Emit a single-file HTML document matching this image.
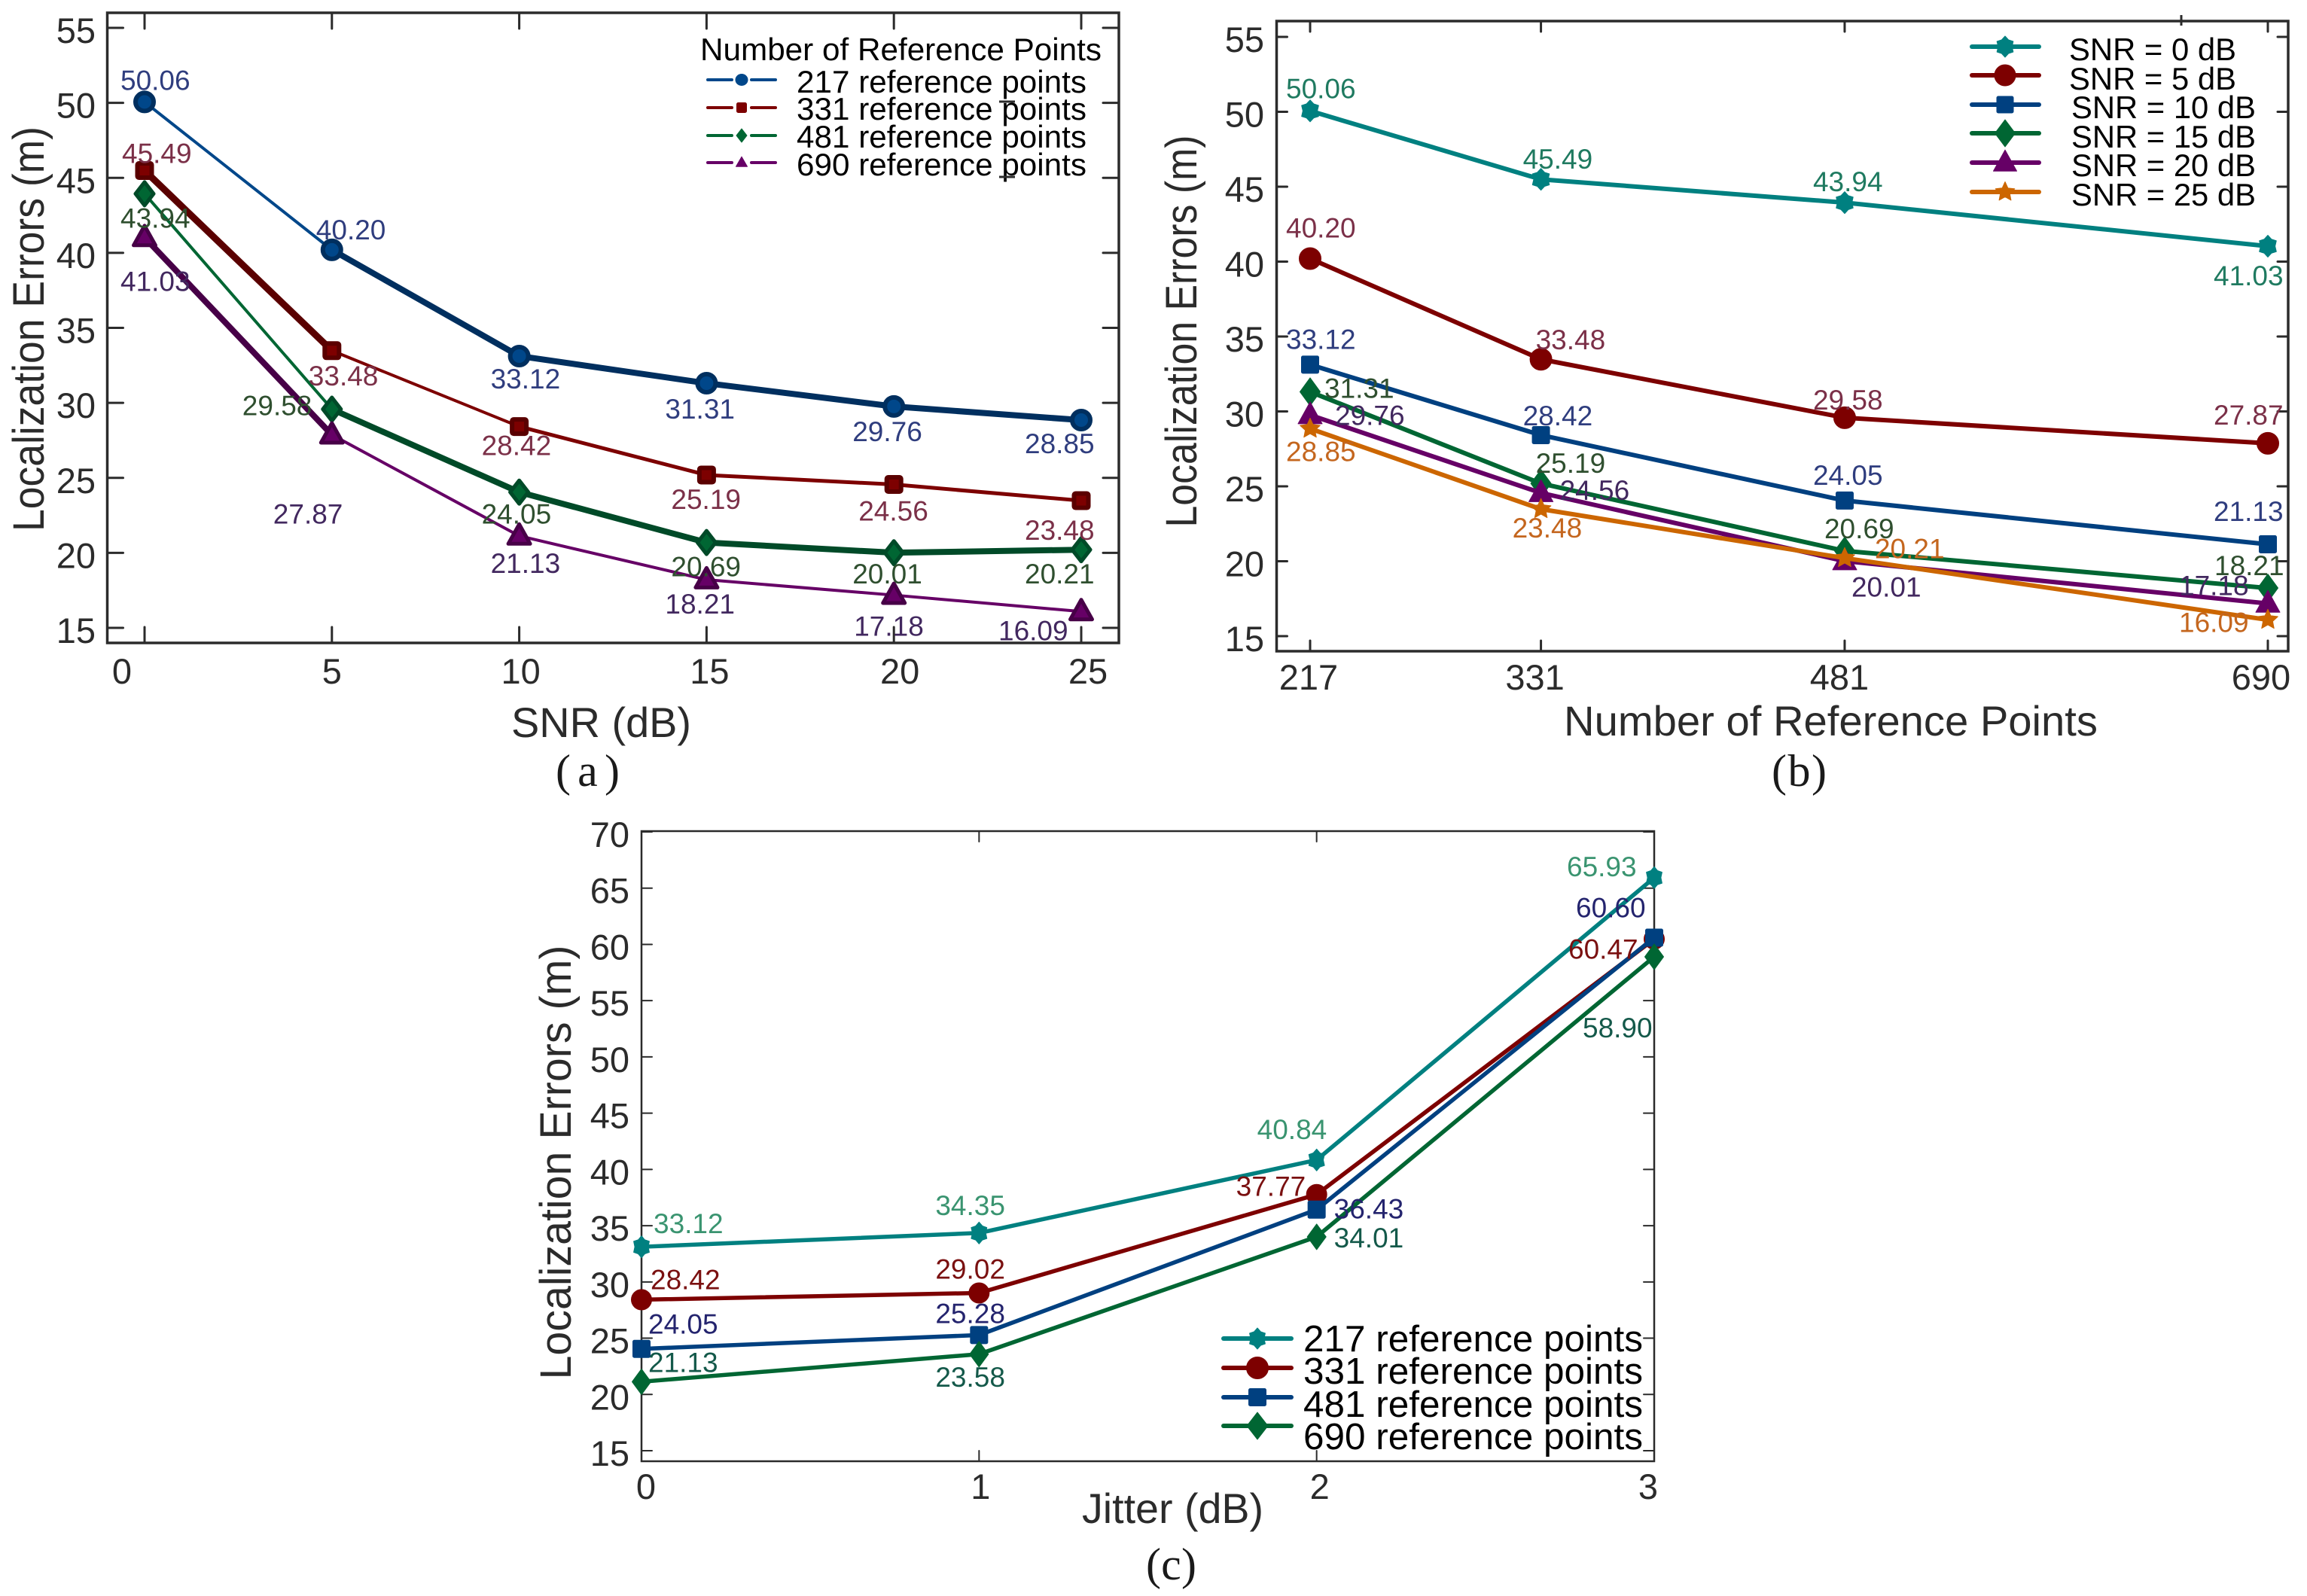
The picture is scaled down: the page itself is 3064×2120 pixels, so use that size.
<!DOCTYPE html>
<html lang="en">
<head>
<meta charset="utf-8">
<title>Localization errors versus SNR, reference points and jitter</title>
<style>
html,body{margin:0;padding:0;background:#fff;width:3064px;height:2120px;overflow:hidden}
svg{display:block}
text{font-family:"Liberation Sans",sans-serif;fill:#2b2b2b}
.legend{fill:#000;font-size:42px}
.axt{font-size:56px}
.cap{font-family:"Liberation Serif",serif;font-size:60px;fill:#1a1a1a}
</style>
</head>
<body>
<svg id="figure" xmlns="http://www.w3.org/2000/svg" width="3064" height="2120" viewBox="0 0 3064 2120">
  <rect x="0" y="0" width="3064" height="2120" fill="#fff"/>
  <g id="panel-a"></g>
  <g id="panel-b"></g>
  <g id="panel-c"></g>

  <text class="axt" style="font-size:58px" transform="translate(58,437) rotate(-90)" text-anchor="middle" textLength="538" lengthAdjust="spacingAndGlyphs">Localization Errors (m)</text>
  <text class="axt" x="679" y="979" textLength="239" lengthAdjust="spacingAndGlyphs">SNR (dB)</text>
  <text class="cap" x="738" y="1044" textLength="85" lengthAdjust="spacing">(a)</text>

  <text class="axt" style="font-size:58px" transform="translate(1589,440) rotate(-90)" text-anchor="middle" textLength="521" lengthAdjust="spacingAndGlyphs">Localization Errors (m)</text>
  <text class="axt" x="2077" y="977" textLength="709" lengthAdjust="spacingAndGlyphs">Number of Reference Points</text>
  <text class="cap" x="2353" y="1044" textLength="73" lengthAdjust="spacing">(b)</text>

  <text class="axt" style="font-size:58px" transform="translate(758,1544) rotate(-90)" text-anchor="middle" textLength="577" lengthAdjust="spacingAndGlyphs">Localization Errors (m)</text>
  <text class="axt" x="1437" y="2023" textLength="241" lengthAdjust="spacingAndGlyphs">Jitter (dB)</text>
  <text class="cap" x="1522" y="2098" textLength="67" lengthAdjust="spacing">(c)</text>

  <text class="legend" x="930" y="80" textLength="533" lengthAdjust="spacingAndGlyphs">Number of Reference Points</text>
  <text class="legend" x="1058" y="123" textLength="385" lengthAdjust="spacingAndGlyphs">217 reference points</text>
  <text class="legend" x="1058" y="159" textLength="385" lengthAdjust="spacingAndGlyphs">331 reference points</text>
  <text class="legend" x="1058" y="196" textLength="385" lengthAdjust="spacingAndGlyphs">481 reference points</text>
  <text class="legend" x="1058" y="233" textLength="385" lengthAdjust="spacingAndGlyphs">690 reference points</text>

  <text class="legend" x="2748" y="80" textLength="222" lengthAdjust="spacingAndGlyphs">SNR = 0 dB</text>
  <text class="legend" x="2748" y="119" textLength="222" lengthAdjust="spacingAndGlyphs">SNR = 5 dB</text>
  <text class="legend" x="2751" y="157" textLength="245" lengthAdjust="spacingAndGlyphs">SNR = 10 dB</text>
  <text class="legend" x="2751" y="196" textLength="245" lengthAdjust="spacingAndGlyphs">SNR = 15 dB</text>
  <text class="legend" x="2751" y="234" textLength="245" lengthAdjust="spacingAndGlyphs">SNR = 20 dB</text>
  <text class="legend" x="2751" y="273" textLength="245" lengthAdjust="spacingAndGlyphs">SNR = 25 dB</text>

  <text class="legend" style="font-size:49.5px" x="1731" y="1795" textLength="451" lengthAdjust="spacingAndGlyphs">217 reference points</text>
  <text class="legend" style="font-size:49.5px" x="1731" y="1838" textLength="451" lengthAdjust="spacingAndGlyphs">331 reference points</text>
  <text class="legend" style="font-size:49.5px" x="1731" y="1882" textLength="451" lengthAdjust="spacingAndGlyphs">481 reference points</text>
  <text class="legend" style="font-size:49.5px" x="1731" y="1925" textLength="451" lengthAdjust="spacingAndGlyphs">690 reference points</text>

  <line x1="1327" y1="135" x2="1348" y2="135" stroke="#2b2b2b" stroke-width="3"/>
  <line x1="1327" y1="235" x2="1348" y2="235" stroke="#2b2b2b" stroke-width="3"/>
  <line x1="2897" y1="20" x2="2897" y2="34" stroke="#2b2b2b" stroke-width="3"/>

  <g id="legend-keys"></g>
</svg>

<script>
/* ---------- Panel (a) data ---------- */
const snrCategories = [0, 5, 10, 15, 20, 25];
const panelAYTicks = [15, 20, 25, 30, 35, 40, 45, 50, 55];
const errorsA217 = [50.06, 40.20, 33.12, 31.31, 29.76, 28.85];
const errorsA331 = [45.49, 33.48, 28.42, 25.19, 24.56, 23.48];
const errorsA481 = [43.94, 29.58, 24.05, 20.69, 20.01, 20.21];
const errorsA690 = [41.03, 27.87, 21.13, 18.21, 17.18, 16.09];

/* ---------- Panel (b) data ---------- */
const referencePointCategories = [217, 331, 481, 690];
const panelBYTicks = [15, 20, 25, 30, 35, 40, 45, 50, 55];
const errorsBSnr0 = [50.06, 45.49, 43.94, 41.03];
const errorsBSnr5 = [40.20, 33.48, 29.58, 27.87];
const errorsBSnr10 = [33.12, 28.42, 24.05, 21.13];
const errorsBSnr15 = [31.31, 25.19, 20.69, 18.21];
const errorsBSnr20 = [29.76, 24.56, 20.01, 17.18];
const errorsBSnr25 = [28.85, 23.48, 20.21, 16.09];

/* ---------- Panel (c) data ---------- */
const jitterCategories = [0, 1, 2, 3];
const panelCYTicks = [15, 20, 25, 30, 35, 40, 45, 50, 55, 60, 65, 70];
const errorsC217 = [33.12, 34.35, 40.84, 65.93];
const errorsC331 = [28.42, 29.02, 37.77, 60.47];
const errorsC481 = [24.05, 25.28, 36.43, 60.60];
const errorsC690 = [21.13, 23.58, 34.01, 58.90];

/* ---------- Drawing helpers ---------- */
const NS = 'http://www.w3.org/2000/svg';
function make(tag, parent) {
  const el = document.createElementNS(NS, tag);
  parent.appendChild(el);
  return el;
}
function polyPoints(pts) {
  return pts.map(function (p) { return p[0].toFixed(1) + ',' + p[1].toFixed(1); }).join(' ');
}
function starPoints(cx, cy, w, h, n, inner) {
  const pts = [];
  for (let i = 0; i < n * 2; i++) {
    const a = -Math.PI / 2 + i * Math.PI / n;
    const r = i % 2 ? inner : 1;
    pts.push([cx + Math.cos(a) * r * w / 2, cy + Math.sin(a) * r * h / 2]);
  }
  return polyPoints(pts);
}
function drawMarker(parent, shape, cx, cy, w, h, fill, stroke, sw) {
  let el;
  if (shape === 'circle') {
    el = make('ellipse', parent);
    el.setAttribute('cx', cx);
    el.setAttribute('cy', cy);
    el.setAttribute('rx', w / 2);
    el.setAttribute('ry', h / 2);
  } else if (shape === 'square') {
    el = make('rect', parent);
    el.setAttribute('x', cx - w / 2);
    el.setAttribute('y', cy - h / 2);
    el.setAttribute('width', w);
    el.setAttribute('height', h);
    el.setAttribute('rx', 2);
  } else {
    el = make('polygon', parent);
    if (shape === 'diamond') {
      el.setAttribute('points', polyPoints([[cx, cy - h / 2], [cx + w / 2, cy], [cx, cy + h / 2], [cx - w / 2, cy]]));
    } else if (shape === 'triangle') {
      el.setAttribute('points', polyPoints([[cx, cy - h * 0.6], [cx + w / 2, cy + h * 0.4], [cx - w / 2, cy + h * 0.4]]));
    } else if (shape === 'star5') {
      el.setAttribute('points', starPoints(cx, cy, w, h, 5, 0.48));
    } else {
      el.setAttribute('points', starPoints(cx, cy, w, h, 6, 0.74));
    }
  }
  el.setAttribute('fill', fill);
  el.setAttribute('stroke', stroke || fill);
  el.setAttribute('stroke-width', sw || 1);
  el.setAttribute('stroke-linejoin', 'round');
  
  
  return el;
}
function drawSegment(parent, x1, y1, x2, y2, color, width, name) {
  const l = make('line', parent);
  l.setAttribute('x1', x1);
  l.setAttribute('y1', y1);
  l.setAttribute('x2', x2);
  l.setAttribute('y2', y2);
  l.setAttribute('stroke', color);
  l.setAttribute('stroke-width', width);
  l.setAttribute('stroke-linecap', 'round');
  
  
  return l;
}
function drawText(parent, str, x, y, size, color, anchor, name) {
  const t = make('text', parent);
  t.textContent = str;
  t.setAttribute('x', x);
  t.setAttribute('y', y);
  t.setAttribute('font-size', size);
  t.setAttribute('style', 'fill:' + color);
  t.setAttribute('text-anchor', anchor);
  
  
  return t;
}
function linearScale(d0, r0, d1, r1) {
  return function (v) { return r0 + (v - d0) * (r1 - r0) / (d1 - d0); };
}

function drawPanel(p) {
  const g = document.getElementById(p.id);
  const box = p.box;
  const axisColor = '#2b2b2b';

  p.yTicks.forEach(function (t) {
    const y = p.yScale(t);
    drawSegment(g, box.left, y, box.left + p.tickLen, y, axisColor, p.tickWidth, 'y-tick-left-' + t);
    drawSegment(g, box.right, y, box.right - p.tickLen, y, axisColor, p.tickWidth, 'y-tick-right-' + t);
    drawText(g, String(t), p.yLabelX, y + 20, 47, axisColor, 'end', 'y-tick-label-' + t);
  });
  p.xTicks.forEach(function (t, i) {
    const x = p.xScale(t);
    drawSegment(g, x, box.bottom, x, box.bottom - p.tickLen, axisColor, p.tickWidth, 'x-tick-bottom-' + t);
    drawSegment(g, x, box.top, x, box.top + p.tickLen, axisColor, p.tickWidth, 'x-tick-top-' + t);
    drawText(g, String(t), x + p.xLabelShift[i], p.xLabelY, 47, axisColor, 'middle', 'x-tick-label-' + t);
  });

  const frame = make('rect', g);
  frame.setAttribute('x', box.left);
  frame.setAttribute('y', box.top);
  frame.setAttribute('width', box.right - box.left);
  frame.setAttribute('height', box.bottom - box.top);
  frame.setAttribute('fill', 'none');
  frame.setAttribute('stroke', axisColor);
  frame.setAttribute('stroke-width', p.frameWidth);
  
  

  p.series.forEach(function (s) {
    const sg = make('g', g);
    
    
    for (let i = 0; i < s.values.length - 1; i++) {
      const thick = s.widths ? s.widths[i] : p.lineWidth;
      const col = s.widths && thick > 5 ? s.dark : s.color;
      drawSegment(sg, p.xScale(p.xTicks[i]), p.yScale(s.values[i]), p.xScale(p.xTicks[i + 1]), p.yScale(s.values[i + 1]), col, thick, 'line-segment-' + s.key + '-' + i);
    }
    s.values.forEach(function (v, i) {
      drawMarker(sg, s.shape, p.xScale(p.xTicks[i]), p.yScale(v), s.mw, s.mh, s.color, s.dark, s.msw);
    });
  });
  p.series.forEach(function (s) {
    s.values.forEach(function (v, i) {
      const off = s.offsets[i];
      drawText(g, v.toFixed(2), p.xScale(p.xTicks[i]) + off[0], p.yScale(v) + off[1], 37, s.labelColor, 'start', 'value-label-' + s.key + '-' + i);
    });
  });
}

/* ---------- Panel (a) ---------- */
drawPanel({
  id: 'panel-a',
  box: { left: 142.5, right: 1486, top: 17, bottom: 854 },
  xScale: linearScale(0, 192, 25, 1436),
  yScale: linearScale(15, 834, 55, 37),
  xTicks: snrCategories,
  yTicks: panelAYTicks,
  xLabelShift: [-30, 0, 2, 4, 8, 9],
  xLabelY: 908,
  yLabelX: 127,
  tickLen: 21,
  tickWidth: 3,
  frameWidth: 3.5,
  lineWidth: 4,
  series: [
    { key: '217', values: errorsA217, shape: 'circle', color: '#00478a', dark: '#002f5f', labelColor: '#2f3d7e', mw: 24, mh: 24, msw: 6, widths: [4, 8, 8, 8, 8],
      offsets: [[-32, -16], [-21, -14], [-38, 43], [-55, 47], [-55, 46], [-75, 44]] },
    { key: '331', values: errorsA331, shape: 'square', color: '#7d0000', dark: '#5a0000', labelColor: '#7b3048', mw: 19, mh: 19, msw: 6, widths: [9, 4, 5, 5, 5],
      offsets: [[-30, -10], [-31, 46], [-50, 38], [-47, 45], [-47, 48], [-75, 52]] },
    { key: '481', values: errorsA481, shape: 'diamond', color: '#006633', dark: '#004a28', labelColor: '#2f4f2f', mw: 24, mh: 31, msw: 5, widths: [4, 8, 8, 8, 8],
      offsets: [[-32, 45], [-119, 8], [-50, 42], [-47, 45], [-55, 41], [-75, 45]] },
    { key: '690', values: errorsA690, shape: 'triangle', color: '#660066', dark: '#470047', labelColor: '#42285f', mw: 29, mh: 26, msw: 5, widths: [8, 4, 4, 4, 4],
      offsets: [[-32, 71], [-78, 118], [-38, 49], [-55, 45], [-53, 54], [-110, 38]] }
  ]
});

/* ---------- Panel (b) ---------- */
drawPanel({
  id: 'panel-b',
  box: { left: 1695.5, right: 3039, top: 28, bottom: 865 },
  xScale: linearScale(217, 1740, 690, 3012),
  yScale: linearScale(15, 845, 55, 49),
  xTicks: referencePointCategories,
  yTicks: panelBYTicks,
  xLabelShift: [-2, -8, -7, -9],
  xLabelY: 916,
  yLabelX: 1679,
  tickLen: 14,
  tickWidth: 3,
  frameWidth: 3.5,
  lineWidth: 6,
  series: [
    { key: 'snr-0', values: errorsBSnr0, shape: 'star6', color: '#008080', dark: '#008080', labelColor: '#1f7a60', mw: 26, mh: 29, msw: 1,
      offsets: [[-32, -17], [-24, -14], [-42, -15], [-72, 52]] },
    { key: 'snr-5', values: errorsBSnr5, shape: 'circle', color: '#7d0000', dark: '#7d0000', labelColor: '#7b3048', mw: 29, mh: 29, msw: 1,
      offsets: [[-32, -28], [-7, -13], [-42, -11], [-72, -25]] },
    { key: 'snr-10', values: errorsBSnr10, shape: 'square', color: '#004080', dark: '#004080', labelColor: '#2f3d7e', mw: 23, mh: 23, msw: 1,
      offsets: [[-32, -21], [-24, -13], [-42, -21], [-72, -31]] },
    { key: 'snr-15', values: errorsBSnr15, shape: 'diamond', color: '#006633', dark: '#006633', labelColor: '#2f4f2f', mw: 27, mh: 37, msw: 1,
      offsets: [[19, 8], [-7, -14], [-27, -17], [-71, -17]] },
    { key: 'snr-20', values: errorsBSnr20, shape: 'triangle', color: '#660066', dark: '#660066', labelColor: '#42285f', mw: 32, mh: 29, msw: 1,
      offsets: [[33, 13], [25, 9], [9, 47], [-118, -11]] },
    { key: 'snr-25', values: errorsBSnr25, shape: 'star5', color: '#cc6600', dark: '#cc6600', labelColor: '#c4661e', mw: 28, mh: 28, msw: 1,
      offsets: [[-32, 43], [-38, 38], [40, 0], [-118, 16]] }
  ]
});

/* ---------- Panel (c) ---------- */
drawPanel({
  id: 'panel-c',
  box: { left: 852, right: 2197, top: 1104, bottom: 1941 },
  xScale: linearScale(0, 852, 3, 2197),
  yScale: linearScale(15, 1927, 70, 1105),
  xTicks: jitterCategories,
  yTicks: panelCYTicks,
  xLabelShift: [6, 2, 4, -8],
  xLabelY: 1991,
  yLabelX: 836,
  tickLen: 14,
  tickWidth: 2,
  frameWidth: 2.5,
  lineWidth: 5.5,
  series: [
    { key: '217', values: errorsC217, shape: 'star6', color: '#008080', dark: '#008080', labelColor: '#3a9470', mw: 24, mh: 29, msw: 1,
      offsets: [[16, -18], [-58, -24], [-79, -28], [-116, -2]] },
    { key: '331', values: errorsC331, shape: 'circle', color: '#7d0000', dark: '#7d0000', labelColor: '#7a1010', mw: 27, mh: 27, msw: 1,
      offsets: [[12, -14], [-58, -19], [-107, 2], [-114, 26]] },
    { key: '481', values: errorsC481, shape: 'square', color: '#004080', dark: '#004080', labelColor: '#24246e', mw: 23, mh: 23, msw: 1,
      offsets: [[9, -20], [-58, -16], [23, 12], [-104, -27]] },
    { key: '690', values: errorsC690, shape: 'diamond', color: '#006633', dark: '#006633', labelColor: '#14594a', mw: 25, mh: 34, msw: 1,
      offsets: [[9, -13], [-58, 43], [23, 14], [-95, 107]] }
  ]
});

/* ---------- Legend keys ---------- */
const legendRoot = document.getElementById('legend-keys');
function legendKey(name, x1, x2, mx, y, gap, color, shape, w, h, lw) {
  const g = make('g', legendRoot);
  
  
  if (gap) {
    drawSegment(g, x1, y, mx - gap, y, color, lw, name + '-line-left');
    drawSegment(g, mx + gap, y, x2, y, color, lw, name + '-line-right');
  } else {
    drawSegment(g, x1, y, x2, y, color, lw, name + '-line');
  }
  drawMarker(g, shape, mx, y, w, h, color, color, 1);
}
legendKey('legend-a-key-217', 940, 1030, 985, 106, 13, '#00478a', 'circle', 16, 15, 4);
legendKey('legend-a-key-331', 940, 1030, 985, 143, 13, '#7d0000', 'square', 13, 13, 4);
legendKey('legend-a-key-481', 940, 1030, 985, 180, 13, '#006633', 'diamond', 14, 18, 4);
legendKey('legend-a-key-690', 940, 1030, 985, 216, 13, '#660066', 'triangle', 15, 13, 4);

legendKey('legend-b-key-snr-0', 2619, 2708, 2663, 62, 0, '#008080', 'star6', 25, 28, 6);
legendKey('legend-b-key-snr-5', 2619, 2708, 2663, 100, 0, '#7d0000', 'circle', 28, 28, 6);
legendKey('legend-b-key-snr-10', 2619, 2708, 2663, 139, 0, '#004080', 'square', 22, 22, 6);
legendKey('legend-b-key-snr-15', 2619, 2708, 2663, 177, 0, '#006633', 'diamond', 27, 36, 6);
legendKey('legend-b-key-snr-20', 2619, 2708, 2663, 216, 0, '#660066', 'triangle', 31, 28, 6);
legendKey('legend-b-key-snr-25', 2619, 2708, 2663, 255, 0, '#cc6600', 'star5', 27, 27, 6);

legendKey('legend-c-key-217', 1625, 1715, 1670, 1778, 0, '#008080', 'star6', 24, 28, 6);
legendKey('legend-c-key-331', 1625, 1715, 1670, 1817, 0, '#7d0000', 'circle', 29, 29, 6);
legendKey('legend-c-key-481', 1625, 1715, 1670, 1856, 0, '#004080', 'square', 23, 23, 6);
legendKey('legend-c-key-690', 1625, 1715, 1670, 1894, 0, '#006633', 'diamond', 28, 36, 6);
</script>
</body>
</html>
